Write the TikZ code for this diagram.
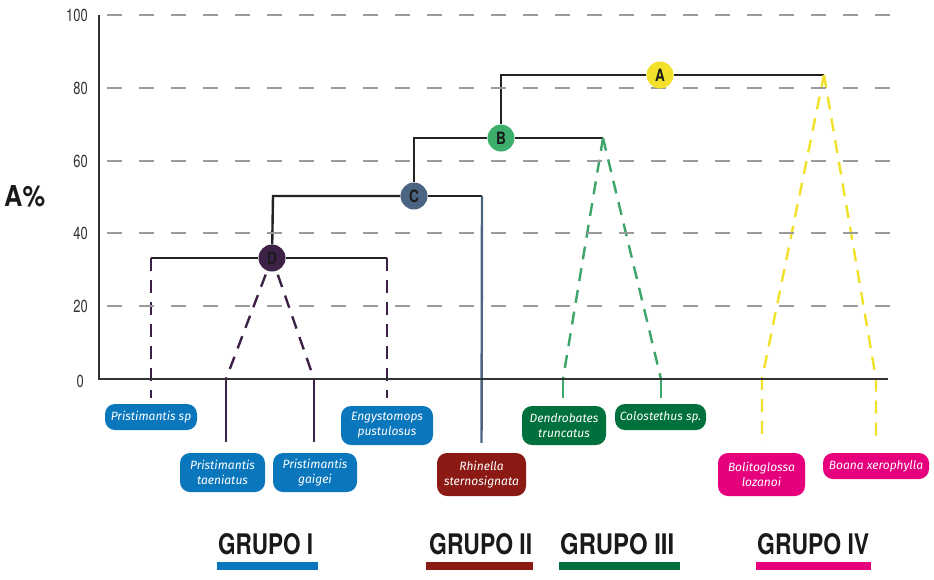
\documentclass[tikz,border=0pt]{standalone}
\usepackage{fontspec}
\setmainfont{Fira Sans}
\newfontfamily\condfont{TeX Gyre Heros}
\usetikzlibrary{backgrounds}
\definecolor{gridgray}{HTML}{9A9A9A}
\definecolor{axisgray}{HTML}{333333}
\definecolor{treeblack}{HTML}{222222}
\definecolor{colA}{HTML}{F2E02A}
\definecolor{colB}{HTML}{3DAE6B}
\definecolor{colC}{HTML}{4A6481}
\definecolor{colD}{HTML}{3D2146}
\definecolor{greendash}{HTML}{3DA56A}
\definecolor{yellowdash}{HTML}{F2E12B}
\definecolor{boxblue}{HTML}{0A77BD}
\definecolor{boxred}{HTML}{8B1A15}
\definecolor{boxgreen}{HTML}{00703C}
\definecolor{boxpink}{HTML}{E6007E}
\definecolor{letter}{HTML}{1A1A1A}
\tikzset{
  gridline/.style={gridgray, line width=1.3pt, dash pattern=on 15pt off 17pt, dash phase=-7pt},
  axisline/.style={axisgray, line width=1.6pt},
  tree/.style={treeblack, line width=2.4pt},
  circ/.style={circle, minimum size=27pt, inner sep=0pt, text=letter},
  ticklab/.style={anchor=east, text=axisgray, inner sep=0pt},
  spbox/.style={rounded corners=10pt, text=white, align=center, inner sep=0pt,
    font=\itshape\fontsize{12}{15}\selectfont},
  purpdash/.style={colD, line width=2.4pt, dash pattern=on 13pt off 9pt},
  purpsolid/.style={colD, line width=2.4pt},
  greendashed/.style={greendash, line width=2.4pt, dash pattern=on 13pt off 9pt},
  greensolid/.style={greendash, line width=2.4pt},
  yellowdashed/.style={yellowdash, line width=2.4pt, dash pattern=on 13pt off 9pt},
  slateline/.style={colC, line width=2.4pt},
  grp/.style={anchor=base west, inner sep=0pt, text=letter}
}
\newcommand{\circlab}[1]{\scalebox{0.8}[1]{\condfont\fontsize{17}{17}\selectfont\bfseries #1}}
\newcommand{\ticktext}[1]{\scalebox{0.74}[1]{\condfont\fontsize{17.5}{17.5}\selectfont #1}}
\begin{document}
\begin{tikzpicture}[x=1pt,y=-1pt]
\useasboundingbox (0,0) rectangle (934,579);
% grid
\foreach \v/\yy in {100/15,80/88,60/161,40/233,20/306}{
  \draw[gridline] (100,\yy) -- (890,\yy);
  \node[ticklab] (t\v) at (88,\yy) {\ticktext{\v}};
}
\node[ticklab] (t0) at (84,381) {\ticktext{0}};
\draw[axisline] (99,15) -- (99,379) -- (888,379);
\node[grp] (ylab) at (4,206) {\resizebox{41pt}{21pt}{\condfont\bfseries A\%}};
% internal nodes
\node[circ, fill=colA] (A) at (660,75) {\circlab{A}};
\node[circ, fill=colB] (B) at (501,138) {\circlab{B}};
\node[circ, fill=colC] (C) at (414,196) {\circlab{C}};
\node[circ, fill=colD] (D) at (272,258) {\circlab{D}};
\coordinate (aR) at (824,75); \coordinate (aL) at (501,75);
\coordinate (bR) at (603,138); \coordinate (bL) at (414,138);
\coordinate (cR) at (482,196); \coordinate (cL) at (273,196);
\coordinate (dR) at (387,258); \coordinate (dL) at (151,258);
\coordinate (k1) at (226,379); \coordinate (k2) at (314,379);
\coordinate (k3) at (563,379); \coordinate (k4) at (661,379);
\coordinate (k5) at (762,379); \coordinate (k6) at (876,379);
% species boxes
\node[spbox, fill=boxblue, minimum width=92pt, minimum height=26pt] (psp) at (151,417) {Pristimantis sp};
\node[spbox, fill=boxblue, minimum width=85pt, minimum height=39pt] (tae) at (222.5,472.5) {Pristimantis\\taeniatus};
\node[spbox, fill=boxblue, minimum width=84pt, minimum height=39pt] (gai) at (315,472.5) {Pristimantis\\gaigei};
\node[spbox, fill=boxblue, minimum width=92pt, minimum height=39pt] (eng) at (387,425.5) {Engystomops\\pustulosus};
\node[spbox, fill=boxred, minimum width=89pt, minimum height=43pt] (rhi) at (481.5,474.5) {Rhinella\\sternosignata};
\node[spbox, fill=boxgreen, minimum width=84pt, minimum height=39pt] (den) at (564,425.5) {Dendrobates\\truncatus};
\node[spbox, fill=boxgreen, minimum width=91pt, minimum height=26pt] (col) at (660.5,417) {Colostethus sp.};
\node[spbox, fill=boxpink, minimum width=87pt, minimum height=43pt] (bol) at (761.5,474.5) {Bolitoglossa\\lozanoi};
\node[spbox, fill=boxpink, minimum width=106pt, minimum height=26pt] (boa) at (876,466) {Boana xerophylla};
% connectors
\begin{pgfonlayer}{background}
\draw[tree] (A) -- (aR);
\draw[tree] (A) -- (aL) -- (B);
\draw[tree] (B) -- (bR);
\draw[tree] (B) -- (bL) -- (C);
\draw[tree] (C) -- (cR);
\draw[tree] (C) -- (cL) -- (D);
\draw[tree] (D) -- (dL);
\draw[tree] (D) -- (dR);
\draw[slateline, shorten >=10pt] (cR) -- (rhi.north);
\draw[purpdash, shorten >=6pt] (dL) -- (psp.north);
\draw[purpdash, shorten >=8pt] (dR) -- (eng.north);
\draw[purpdash, shorten <=4pt] (D) -- (k1);
\draw[purpsolid, shorten >=11pt] (k1) -- (tae.north -| k1);
\draw[purpdash, shorten <=4pt] (D) -- (k2);
\draw[purpsolid, shorten >=11pt] (k2) -- (gai.north -| k2);
\draw[greendashed] (bR) -- (k3);
\draw[greensolid, shorten >=8pt] (k3) -- (den.north -| k3);
\draw[greendashed] (bR) -- (k4);
\draw[greensolid, shorten >=6pt] (k4) -- (col.north -| k4);
\draw[yellowdashed, shorten >=10pt] (aR) -- (k5) -- (bol.north -| k5);
\draw[yellowdashed, shorten >=10pt] (aR) -- (k6) -- (boa.north -| k6);
\end{pgfonlayer}
% group labels
\node[grp] (g1) at (218,554) {\resizebox{95pt}{21pt}{\condfont\bfseries GRUPO I}};
\node[grp] (g2) at (429,554) {\resizebox{103pt}{21pt}{\condfont\bfseries GRUPO II}};
\node[grp] (g3) at (560,554) {\resizebox{114pt}{21pt}{\condfont\bfseries GRUPO III}};
\node[grp] (g4) at (757,554) {\resizebox{112pt}{21pt}{\condfont\bfseries GRUPO IV}};
\fill[boxblue] (217,562) rectangle (318,570);
\fill[boxred] (426,562) rectangle (533,570);
\fill[boxgreen] (559,562) rectangle (680,570);
\fill[boxpink] (756,562) rectangle (871,570);
\end{tikzpicture}
\end{document}
